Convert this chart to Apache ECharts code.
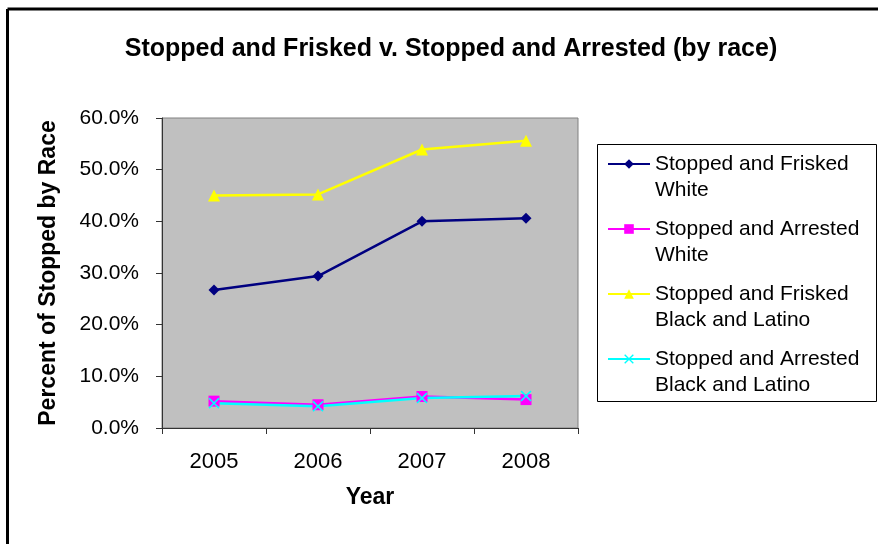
<!DOCTYPE html>
<html>
<head>
<meta charset="utf-8">
<script src="https://cdn.jsdelivr.net/npm/echarts@6/dist/echarts.min.js"></script>
<style>
  html, body { margin: 0; padding: 0; background: #fff; }
  #chart { width: 878px; height: 544px; }
</style>
</head>
<body>
<div id="chart"></div>
<script>
// 数据
const years = ['2005', '2006', '2007', '2008'];
const friskedWhite = [26.7, 29.4, 40.0, 40.6];
const arrestedWhite = [5.2, 4.5, 6.1, 5.5];
const friskedBlackLatino = [45.0, 45.2, 53.9, 55.6];
const arrestedBlackLatino = [4.8, 4.2, 5.8, 6.2];
const seriesNames = [
    'Stopped and Frisked\nWhite',
    'Stopped and Arrested\nWhite',
    'Stopped and Frisked\nBlack and Latino',
    'Stopped and Arrested\nBlack and Latino'
];

const FONT = '"Liberation Sans", Arial, sans-serif';
const xMark = 'path://M0,1L1,0L5,4L9,0L10,1L6,5L10,9L9,10L5,6L1,10L0,9L4,5Z';

function initChart() {
    const chart = echarts.init(document.getElementById('chart'));
    const option = {
        backgroundColor: '#fff',
        animation: false,
        title: {
            text: 'Stopped and Frisked v. Stopped and Arrested (by race)',
            left: 446,
            textAlign: 'center',
            top: 32,
            textStyle: {
                fontFamily: FONT,
                fontSize: 25,
                fontWeight: 'bold',
                color: '#000'
            }
        },
        graphic: [
            { type: 'line', shape: { x1: 7.5, y1: 9, x2: 878, y2: 9 }, style: { stroke: '#000', lineWidth: 3 } },
            { type: 'line', shape: { x1: 7.5, y1: 9, x2: 7.5, y2: 544 }, style: { stroke: '#000', lineWidth: 3 } },
            { type: 'rect', shape: { x: 597.5, y: 144.5, width: 279, height: 257 }, style: { fill: 'none', stroke: '#000', lineWidth: 1 } }
        ],
        legend: {
            orient: 'vertical',
            left: 607,
            top: 125,
            padding: 0,
            itemWidth: 42,
            itemHeight: 12,
            itemGap: -13,
            data: seriesNames,
            // 前置空行, 让图标对齐第一行文字
            formatter: function (name) { return ' \n' + name; },
            textStyle: {
                fontFamily: FONT,
                fontSize: 21,
                color: '#000',
                lineHeight: 26
            }
        },
        grid: {
            left: 162,
            top: 118,
            width: 416,
            height: 310,
            show: true,
            backgroundColor: '#C0C0C0',
            borderColor: '#808080',
            borderWidth: 1
        },
        xAxis: {
            type: 'category',
            data: years,
            boundaryGap: true,
            name: 'Year',
            nameLocation: 'middle',
            nameGap: 58,
            nameTextStyle: {
                fontFamily: FONT,
                fontSize: 23,
                fontWeight: 'bold',
                color: '#000'
            },
            axisLine: { lineStyle: { color: '#333', width: 1 } },
            axisTick: { show: true, length: 6, lineStyle: { color: '#333' } },
            axisLabel: {
                fontFamily: FONT,
                fontSize: 22,
                color: '#000',
                margin: 23
            }
        },
        yAxis: {
            type: 'value',
            min: 0,
            max: 60,
            interval: 10,
            name: 'Percent of Stopped by Race',
            nameLocation: 'middle',
            nameGap: 102,
            nameTextStyle: {
                fontFamily: FONT,
                fontSize: 23,
                fontWeight: 'bold',
                color: '#000'
            },
            axisLine: { show: true, lineStyle: { color: '#333', width: 1 } },
            axisTick: { show: true, length: 6, lineStyle: { color: '#333' } },
            splitLine: { show: false },
            axisLabel: {
                fontFamily: FONT,
                fontSize: 21,
                color: '#000',
                margin: 23,
                formatter: function (v) { return v.toFixed(1) + '%'; }
            }
        },
        series: [
            {
                name: seriesNames[0],
                type: 'line',
                data: friskedWhite,
                symbol: 'diamond',
                symbolSize: 11,
                itemStyle: { color: '#000080' },
                lineStyle: { color: '#000080', width: 2.5 }
            },
            {
                name: seriesNames[1],
                type: 'line',
                data: arrestedWhite,
                symbol: 'rect',
                symbolSize: 11,
                itemStyle: { color: '#FF00FF' },
                lineStyle: { color: '#FF00FF', width: 2.5 }
            },
            {
                name: seriesNames[2],
                type: 'line',
                data: friskedBlackLatino,
                symbol: 'triangle',
                symbolSize: 12,
                itemStyle: { color: '#FFFF00' },
                lineStyle: { color: '#FFFF00', width: 2.5 }
            },
            {
                name: seriesNames[3],
                type: 'line',
                data: arrestedBlackLatino,
                symbol: xMark,
                symbolSize: 11,
                itemStyle: { color: '#00FFFF' },
                lineStyle: { color: '#00FFFF', width: 2.5 }
            }
        ]
    };
    chart.setOption(option);
}

initChart();
</script>
</body>
</html>
